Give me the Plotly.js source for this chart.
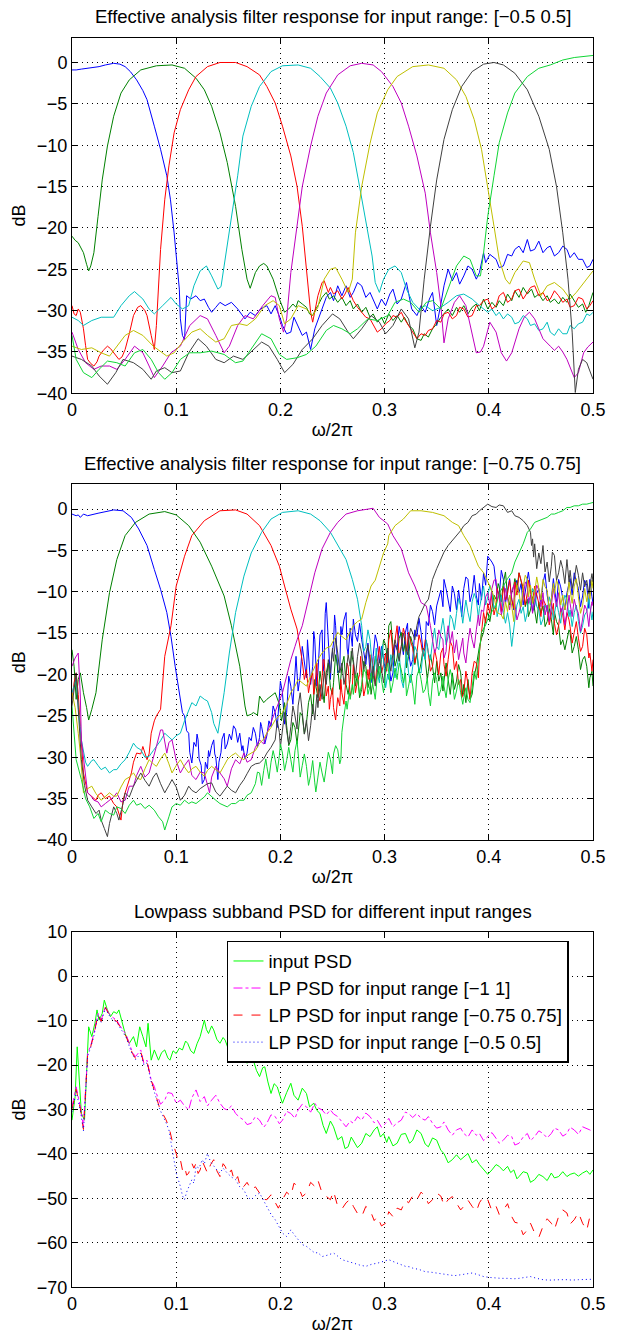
<!DOCTYPE html>
<html>
<head>
<meta charset="utf-8">
<script src="https://cdn.plot.ly/plotly-3.0.1.min.js"></script>
<style>html,body{margin:0;padding:0;background:#fff;}#chart{width:617px;height:1336px;}</style>
</head>
<body>
<div id="chart"></div>
<script>
// ---------- Panel 1: input range [-0.5 0.5]  ([frequency, dB] pairs) ----------
const p1Blue = [[0,-0.9],[0.004,-0.9],[0.009,-0.8],[0.015,-0.7],[0.02,-0.6],[0.026,-0.5],[0.032,-0.3],[0.036,-0.2],[0.04,-0.1],[0.046,-0.2],[0.051,-0.5],[0.056,-1.1],[0.062,-2.1],[0.068,-3.4],[0.072,-4.5],[0.079,-7.7],[0.085,-10.5],[0.091,-13.7],[0.0945,-16.6],[0.098,-20.6],[0.101,-24.6],[0.103,-27.4],[0.104,-31],[0.106,-33],[0.108,-33.5],[0.11,-28.2],[0.114,-28.6],[0.119,-28.2],[0.123,-28.8],[0.127,-28.6],[0.131,-29.6],[0.134,-30.2],[0.138,-29.6],[0.142,-29],[0.147,-29.4],[0.153,-29],[0.159,-29.8],[0.166,-31],[0.171,-30.2],[0.176,-30.6],[0.181,-29.8],[0.187,-29.4],[0.191,-30.4],[0.195,-29.4],[0.2,-31],[0.202,-31.8],[0.206,-32.8],[0.21,-32.6],[0.213,-30.8],[0.217,-31.8],[0.221,-33],[0.225,-32.6],[0.229,-34.7],[0.233,-32.2],[0.236,-31.2],[0.24,-29.8],[0.244,-28.4],[0.248,-27.8],[0.251,-28.8],[0.255,-27],[0.259,-28.2],[0.263,-27],[0.267,-28.4],[0.27,-27.8],[0.274,-26.6],[0.278,-27],[0.282,-28.4],[0.286,-27.8],[0.29,-29],[0.293,-29.8],[0.297,-28.6],[0.301,-29.4],[0.305,-28],[0.308,-27.4],[0.312,-29.2],[0.316,-28.6],[0.321,-26.6],[0.326,-29.8],[0.331,-30.6],[0.335,-29.4],[0.339,-30.2],[0.343,-28.6],[0.346,-27.8],[0.35,-31.8],[0.354,-29.2],[0.357,-27],[0.361,-25],[0.365,-26.4],[0.369,-25.4],[0.372,-26.8],[0.376,-25.8],[0.38,-24.6],[0.384,-25],[0.388,-26.2],[0.391,-25.4],[0.395,-23],[0.397,-24.2],[0.401,-23.2],[0.407,-23.8],[0.41,-24.8],[0.414,-24.6],[0.418,-23.2],[0.422,-23.4],[0.425,-22.6],[0.429,-22.2],[0.433,-23],[0.437,-21.4],[0.44,-22.8],[0.444,-22.6],[0.448,-21.6],[0.452,-23],[0.456,-22.4],[0.459,-22.2],[0.463,-23.4],[0.467,-23],[0.471,-22.2],[0.475,-22.6],[0.478,-23.6],[0.482,-23],[0.486,-23.8],[0.49,-23.8],[0.494,-24.8],[0.497,-24.6],[0.5,-23.8]];
const p1Green = [[0,-21],[0.003,-21.5],[0.006,-21.8],[0.009,-22.6],[0.011,-23],[0.014,-24.4],[0.016,-25.2],[0.018,-24.6],[0.021,-23],[0.025,-18.6],[0.029,-14.2],[0.034,-10.1],[0.04,-6.5],[0.047,-3.7],[0.055,-2.1],[0.066,-0.9],[0.081,-0.4],[0.096,-0.3],[0.108,-0.7],[0.119,-1.9],[0.127,-3.3],[0.134,-5.3],[0.142,-8.5],[0.149,-12.1],[0.157,-17.4],[0.163,-22.6],[0.168,-26.2],[0.171,-27.3],[0.176,-25.4],[0.18,-24.6],[0.184,-24.3],[0.187,-24.6],[0.193,-26.2],[0.199,-28.6],[0.204,-30.2],[0.208,-29.8],[0.212,-29.2],[0.215,-29.6],[0.217,-28.8],[0.221,-29.2],[0.225,-29.6],[0.228,-30.4],[0.231,-30.6],[0.234,-29.8],[0.236,-29.4],[0.24,-28.4],[0.244,-27.8],[0.247,-28.6],[0.251,-28.2],[0.255,-29],[0.259,-28.4],[0.263,-29.4],[0.267,-28.8],[0.27,-29.8],[0.274,-29.2],[0.278,-30.2],[0.282,-29.6],[0.286,-30.8],[0.289,-30.4],[0.293,-31.4],[0.297,-30.8],[0.3,-31.6],[0.304,-30.4],[0.308,-31.2],[0.312,-30.6],[0.316,-31.4],[0.319,-30.8],[0.323,-31.8],[0.327,-32.2],[0.331,-33.4],[0.335,-33.6],[0.338,-32.8],[0.342,-33.2],[0.346,-32.2],[0.35,-31.6],[0.354,-30.8],[0.357,-30.4],[0.361,-29.8],[0.365,-30.6],[0.369,-29.6],[0.372,-30.2],[0.376,-29.4],[0.38,-30.4],[0.384,-29.6],[0.388,-29.2],[0.391,-30],[0.395,-28.6],[0.399,-29.8],[0.403,-29],[0.407,-29.6],[0.41,-28.8],[0.414,-29.4],[0.418,-28],[0.422,-28.8],[0.425,-27.6],[0.429,-28.4],[0.433,-27.2],[0.437,-28],[0.441,-27.4],[0.444,-28.4],[0.448,-28],[0.452,-28.8],[0.456,-28.2],[0.459,-29],[0.463,-28.6],[0.467,-29.2],[0.471,-28.4],[0.475,-29],[0.478,-28],[0.482,-28.8],[0.486,-29.6],[0.49,-29.2],[0.493,-30.2],[0.496,-29.4],[0.5,-27.8]];
const p1Red = [[0,-29.4],[0.002,-30.4],[0.004,-30.6],[0.006,-29.8],[0.008,-30.2],[0.011,-32.2],[0.013,-34.2],[0.015,-35.9],[0.018,-36.4],[0.021,-36.7],[0.024,-36.2],[0.026,-35.5],[0.03,-34.8],[0.034,-34.3],[0.037,-34.6],[0.04,-35.1],[0.045,-35.9],[0.048,-35.6],[0.051,-34.7],[0.055,-32.8],[0.059,-30.6],[0.063,-29.6],[0.066,-29.4],[0.07,-30],[0.072,-30.6],[0.076,-33],[0.079,-34.7],[0.081,-31.8],[0.083,-27],[0.085,-22.6],[0.089,-16.6],[0.093,-12.5],[0.098,-8.5],[0.104,-5.7],[0.112,-3.3],[0.119,-1.7],[0.13,-0.5],[0.142,0],[0.157,0],[0.168,-0.5],[0.18,-1.5],[0.187,-2.9],[0.195,-4.9],[0.202,-7.7],[0.21,-11.3],[0.216,-15],[0.221,-19.8],[0.225,-24.6],[0.229,-30.2],[0.231,-31.4],[0.234,-29.4],[0.236,-28.2],[0.238,-27.4],[0.24,-26.6],[0.242,-26.4],[0.244,-27.2],[0.246,-27.8],[0.248,-27.2],[0.251,-28],[0.255,-27.6],[0.259,-28.6],[0.262,-28],[0.265,-27.2],[0.268,-28.2],[0.27,-28.8],[0.274,-29.6],[0.278,-30.2],[0.282,-30.8],[0.286,-31],[0.29,-32],[0.293,-32.6],[0.297,-32.2],[0.301,-31.6],[0.305,-31.2],[0.308,-30.6],[0.312,-30.8],[0.316,-30.2],[0.319,-31],[0.323,-31.8],[0.327,-32.6],[0.331,-33.4],[0.335,-32.8],[0.339,-33],[0.342,-32.4],[0.346,-32.2],[0.35,-31.2],[0.354,-31.4],[0.357,-30.4],[0.361,-30.2],[0.365,-31],[0.369,-30.6],[0.372,-29.6],[0.376,-29.8],[0.38,-30.8],[0.384,-30.6],[0.388,-29.4],[0.391,-29.4],[0.395,-28.8],[0.399,-28.6],[0.403,-29.8],[0.407,-29.4],[0.41,-28.2],[0.414,-27.8],[0.418,-29],[0.422,-28.6],[0.425,-27.6],[0.429,-27.4],[0.433,-28.6],[0.437,-27.8],[0.44,-27.2],[0.444,-27],[0.448,-28.2],[0.452,-27.8],[0.456,-28.8],[0.459,-28.6],[0.463,-27.6],[0.467,-28.2],[0.471,-29],[0.475,-28.6],[0.478,-29.6],[0.482,-29.4],[0.486,-28.4],[0.49,-28.6],[0.494,-29.8],[0.497,-29.4],[0.5,-28.8]];
const p1Cyan = [[0,-30.8],[0.006,-31.2],[0.011,-31.8],[0.019,-31.2],[0.028,-30.8],[0.04,-30.8],[0.047,-29.4],[0.055,-28.2],[0.06,-27.7],[0.068,-28.6],[0.074,-29.8],[0.079,-30.4],[0.087,-29.4],[0.095,-28.4],[0.1,-29.2],[0.106,-29.8],[0.112,-29.4],[0.117,-27],[0.123,-25.2],[0.129,-24.6],[0.134,-25.8],[0.14,-27.4],[0.143,-27.1],[0.147,-23.8],[0.153,-19],[0.159,-13.7],[0.164,-8.9],[0.172,-5.3],[0.18,-2.9],[0.191,-1.1],[0.202,-0.4],[0.217,-0.3],[0.229,-0.7],[0.238,-1.7],[0.248,-3.1],[0.255,-4.9],[0.263,-7.7],[0.27,-10.9],[0.276,-15],[0.282,-19],[0.288,-23.4],[0.291,-26.6],[0.295,-27.8],[0.299,-26.2],[0.304,-25],[0.31,-24.6],[0.316,-25.4],[0.321,-27.4],[0.327,-29],[0.333,-29.8],[0.339,-29.4],[0.346,-30],[0.354,-29.6],[0.361,-29],[0.369,-28.2],[0.376,-28],[0.384,-28.6],[0.391,-29.4],[0.399,-30.2],[0.403,-29.8],[0.407,-30.6],[0.41,-30.2],[0.414,-31],[0.418,-30.4],[0.422,-30.8],[0.425,-31.6],[0.429,-31.4],[0.433,-30.6],[0.437,-31],[0.44,-31.8],[0.444,-31.6],[0.448,-32.4],[0.452,-32.2],[0.456,-31.4],[0.459,-32.6],[0.463,-33],[0.467,-32.2],[0.471,-32.8],[0.475,-32.8],[0.478,-31.8],[0.482,-32.2],[0.486,-31.6],[0.49,-31.4],[0.494,-30.4],[0.497,-30.6],[0.5,-30.2]];
const p1Magenta = [[0,-32.6],[0.006,-34.7],[0.013,-36.3],[0.021,-37.1],[0.028,-36.7],[0.036,-36.7],[0.043,-37.1],[0.051,-35.9],[0.06,-34.3],[0.068,-35.1],[0.074,-36.7],[0.079,-38.1],[0.087,-36.7],[0.095,-35.1],[0.104,-34.3],[0.113,-31.8],[0.123,-30.6],[0.13,-31],[0.138,-33],[0.146,-35.1],[0.151,-34.3],[0.159,-31.8],[0.166,-30.6],[0.174,-31],[0.183,-29.4],[0.191,-28.2],[0.195,-28.4],[0.199,-31],[0.203,-32.6],[0.206,-31],[0.21,-25.4],[0.216,-19.8],[0.221,-15],[0.229,-10.1],[0.236,-6.5],[0.244,-3.7],[0.255,-1.5],[0.267,-0.4],[0.278,-0.1],[0.289,-0.3],[0.297,-1.1],[0.308,-2.9],[0.316,-4.9],[0.323,-7.7],[0.331,-11.3],[0.339,-15.8],[0.344,-20.6],[0.35,-25.4],[0.354,-29.4],[0.357,-33.9],[0.361,-31],[0.367,-29],[0.372,-28.2],[0.378,-29.4],[0.384,-32.6],[0.388,-35.1],[0.392,-35],[0.395,-34.3],[0.401,-31.4],[0.407,-32.6],[0.412,-35.1],[0.417,-36.1],[0.422,-35.1],[0.429,-32.2],[0.434,-30.8],[0.439,-30.2],[0.444,-31],[0.452,-33.4],[0.459,-34.3],[0.463,-34.8],[0.467,-34.3],[0.471,-35],[0.475,-35.9],[0.478,-36.8],[0.482,-38.1],[0.486,-37.5],[0.491,-35.1],[0.495,-34.4],[0.5,-33.8]];
const p1Yellow = [[0,-34.3],[0.009,-34.7],[0.019,-34.5],[0.028,-35.1],[0.036,-35.5],[0.043,-34.3],[0.051,-33],[0.059,-32.4],[0.068,-33],[0.078,-34.3],[0.085,-34.9],[0.091,-35.5],[0.098,-35.1],[0.106,-33.8],[0.115,-32.6],[0.123,-32.2],[0.13,-33],[0.138,-33.8],[0.146,-33.4],[0.153,-31.8],[0.161,-31.6],[0.168,-31.8],[0.176,-31],[0.185,-29.4],[0.193,-28.8],[0.199,-29.4],[0.204,-31.6],[0.21,-31],[0.217,-29.4],[0.225,-29.8],[0.231,-30.6],[0.236,-29.6],[0.242,-26.2],[0.248,-25],[0.253,-24.8],[0.259,-26.2],[0.265,-27.8],[0.269,-26.2],[0.272,-20.6],[0.278,-15],[0.286,-9.8],[0.293,-6.1],[0.303,-3.3],[0.312,-1.7],[0.327,-0.5],[0.342,-0.3],[0.357,-0.7],[0.369,-2.1],[0.378,-4.1],[0.386,-6.9],[0.393,-10.5],[0.399,-15],[0.405,-19.8],[0.41,-23.8],[0.416,-26.2],[0.42,-26.8],[0.425,-25.4],[0.433,-24],[0.439,-24.2],[0.444,-26.2],[0.45,-28.2],[0.456,-27],[0.463,-26.6],[0.471,-27.4],[0.478,-28.6],[0.484,-27.8],[0.491,-26.6],[0.5,-25.2]];
const p1Gray = [[0,-35.5],[0.009,-35.9],[0.019,-36.7],[0.026,-37.9],[0.034,-38.9],[0.042,-37.5],[0.049,-35.9],[0.059,-36.3],[0.068,-37.1],[0.076,-38.3],[0.081,-37.3],[0.089,-36.9],[0.096,-37.5],[0.104,-37.3],[0.112,-35.1],[0.121,-33.4],[0.129,-34.3],[0.138,-35.9],[0.146,-36.3],[0.155,-35.5],[0.164,-35.9],[0.174,-34.7],[0.182,-33.8],[0.189,-34.3],[0.197,-35.9],[0.204,-37.5],[0.212,-36.5],[0.221,-34.7],[0.231,-33.4],[0.24,-31.8],[0.25,-30.4],[0.257,-31],[0.265,-32.6],[0.27,-33.4],[0.278,-32.2],[0.287,-30.6],[0.295,-31.4],[0.301,-32.8],[0.308,-31.8],[0.316,-29.8],[0.323,-31],[0.329,-34.5],[0.333,-32.6],[0.338,-26.2],[0.344,-19.8],[0.35,-14.2],[0.357,-9.3],[0.365,-5.7],[0.374,-2.9],[0.384,-1.1],[0.395,-0.2],[0.405,0],[0.414,-0.3],[0.425,-1.3],[0.437,-3.3],[0.448,-6.5],[0.458,-10.5],[0.465,-15],[0.471,-20.6],[0.476,-26.2],[0.48,-32.6],[0.483,-39.9],[0.486,-37.1],[0.49,-35.9],[0.494,-36.3],[0.5,-38.3]];
const p1Lime = [[0,-33],[0.004,-35.9],[0.011,-37.5],[0.019,-38.1],[0.026,-37.1],[0.034,-36.1],[0.043,-36.3],[0.051,-36.7],[0.06,-35.1],[0.068,-34.7],[0.076,-35.9],[0.083,-37.5],[0.089,-38.3],[0.096,-37.5],[0.104,-35.9],[0.113,-35.1],[0.123,-35.1],[0.134,-34.9],[0.146,-35.3],[0.157,-36.3],[0.164,-36.1],[0.172,-34.7],[0.182,-32.8],[0.191,-33.4],[0.199,-35.3],[0.206,-35.9],[0.216,-35.7],[0.225,-35.3],[0.234,-34.3],[0.244,-32.4],[0.251,-31.8],[0.259,-32.2],[0.267,-32.8],[0.274,-32.2],[0.284,-31],[0.293,-31.2],[0.303,-30.6],[0.31,-29],[0.318,-28.6],[0.325,-29],[0.333,-30.2],[0.34,-29],[0.346,-28.8],[0.354,-29.8],[0.361,-27.4],[0.369,-24.6],[0.376,-23.4],[0.382,-23.8],[0.388,-25.8],[0.392,-25.8],[0.395,-23],[0.399,-18.6],[0.405,-13.7],[0.41,-9.7],[0.418,-6.1],[0.425,-3.7],[0.437,-1.7],[0.448,-0.7],[0.459,-0.3],[0.471,0.3],[0.482,0.6],[0.493,0.8],[0.5,0.85]];

// ---------- Panel 2: input range [-0.75 0.75] ----------
const p2Blue = [[0,-0.6],[0.004,-0.8],[0.006,-0.7],[0.008,-1],[0.011,-0.6],[0.015,-0.8],[0.025,-0.5],[0.04,-0.1],[0.049,-0.2],[0.057,-1],[0.064,-2.4],[0.072,-4.4],[0.079,-7.3],[0.085,-9.7],[0.091,-12.5],[0.095,-15.4],[0.099,-19],[0.104,-23],[0.106,-24.6],[0.108,-25],[0.11,-26.8],[0.112,-27.1],[0.113,-29.4],[0.115,-30.7],[0.117,-28.2],[0.119,-28.7],[0.12,-27.2],[0.121,-27.9],[0.122,-30.2],[0.124,-31],[0.125,-33.2],[0.127,-32.7],[0.128,-30.6],[0.13,-31.4],[0.131,-29.2],[0.132,-29.9],[0.134,-28.6],[0.136,-27.9],[0.137,-29.6],[0.138,-30],[0.139,-31.6],[0.14,-32.7],[0.141,-30.6],[0.143,-29.4],[0.144,-27.8],[0.146,-27.1],[0.147,-29],[0.149,-28.4],[0.151,-27.2],[0.153,-27.9],[0.155,-26.2],[0.157,-26.6],[0.159,-28.2],[0.161,-27.1],[0.163,-29.2],[0.164,-28.6],[0.166,-30.2],[0.168,-29.5],[0.17,-27.6],[0.172,-28],[0.174,-26.4],[0.176,-27.1],[0.178,-28.8],[0.18,-27.6],[0.181,-25.8],[0.182,-26.3],[0.185,-28.4],[0.187,-27.4],[0.189,-25.6],[0.191,-26.3],[0.193,-23.8],[0.195,-24.6],[0.197,-26.4],[0.199,-23],[0.2,-20.8],[0.202,-22.2],[0.204,-26],[0.206,-24.6],[0.208,-20.2],[0.21,-21.4],[0.212,-23.6],[0.214,-19.8],[0.215,-17.8],[0.217,-22],[0.219,-20.2],[0.221,-16.6],[0.223,-18.8],[0.225,-20.4],[0.226,-15.8],[0.227,-17.4],[0.229,-21.2],[0.231,-19],[0.232,-14.8],[0.233,-15.8],[0.235,-21.4],[0.236,-19.8],[0.238,-15.2],[0.24,-14.6],[0.241,-19.6],[0.242,-18.4],[0.243,-12.6],[0.244,-11.3],[0.246,-16.4],[0.248,-20.6],[0.249,-18.2],[0.251,-16.2],[0.252,-12.8],[0.253,-14.1],[0.255,-19.8],[0.257,-19.4],[0.258,-14.2],[0.259,-15.2],[0.261,-13.4],[0.263,-12.5],[0.264,-16.8],[0.265,-17.6],[0.267,-14.4],[0.269,-16.6],[0.27,-13.3],[0.272,-15.2],[0.274,-16],[0.276,-13.8],[0.278,-15.8],[0.28,-17.4],[0.282,-18.8],[0.284,-16.2],[0.286,-19.8],[0.288,-21],[0.289,-17.8],[0.291,-15.2],[0.293,-16.2],[0.295,-18.6],[0.297,-16.6],[0.299,-18.2],[0.301,-19.8],[0.303,-17.2],[0.304,-18.2],[0.306,-20.8],[0.308,-19.8],[0.31,-16.4],[0.312,-17],[0.314,-14.2],[0.316,-15.6],[0.318,-17.6],[0.32,-14.9],[0.322,-13.8],[0.323,-17.2],[0.325,-19],[0.327,-18.2],[0.329,-14.6],[0.331,-15.4],[0.333,-13.2],[0.335,-14.9],[0.337,-17.4],[0.339,-16.8],[0.34,-13.6],[0.342,-14.1],[0.344,-11.6],[0.346,-12.4],[0.348,-14],[0.35,-11.7],[0.352,-10.6],[0.354,-9.8],[0.356,-11.8],[0.357,-8.5],[0.359,-9.6],[0.361,-10.9],[0.363,-12.4],[0.365,-9.3],[0.367,-10.2],[0.369,-12.2],[0.371,-9.8],[0.373,-11.7],[0.374,-13],[0.376,-9.6],[0.378,-8.2],[0.38,-8.5],[0.382,-11.2],[0.384,-10.2],[0.386,-8],[0.388,-10.5],[0.39,-11.6],[0.391,-9],[0.393,-11],[0.395,-7.7],[0.397,-9.2],[0.399,-5.7],[0.401,-6],[0.403,-6.4],[0.405,-6.9],[0.407,-9.2],[0.41,-10.5],[0.412,-7.4],[0.414,-8.5],[0.416,-11.4],[0.418,-9.8],[0.42,-8.4],[0.422,-10.9],[0.424,-12.2],[0.425,-9.4],[0.427,-8.6],[0.429,-10.1],[0.431,-9],[0.433,-11.6],[0.435,-10],[0.437,-8.5],[0.438,-7.6],[0.44,-9.6],[0.442,-12.4],[0.444,-11.7],[0.446,-10.2],[0.448,-9.6],[0.45,-11.2],[0.452,-8.9],[0.454,-7.8],[0.456,-10.4],[0.458,-12],[0.46,-10.9],[0.462,-8.4],[0.463,-9.6],[0.465,-11.4],[0.467,-8.5],[0.469,-9.4],[0.471,-10.8],[0.473,-12.2],[0.475,-10.1],[0.477,-9],[0.478,-8.4],[0.48,-10.4],[0.482,-7.7],[0.484,-8.8],[0.486,-9.6],[0.488,-11.8],[0.49,-10.5],[0.492,-8.6],[0.494,-9.2],[0.496,-12],[0.497,-8.5],[0.499,-10.6],[0.5,-11.4]];
const p2Green = [[0,-17],[0.002,-19],[0.004,-23],[0.006,-20.6],[0.008,-19.8],[0.01,-21.4],[0.011,-22.2],[0.014,-24],[0.016,-25.5],[0.019,-24.2],[0.023,-22.2],[0.029,-15.8],[0.036,-10.1],[0.043,-6.1],[0.051,-3.2],[0.061,-1.6],[0.074,-0.6],[0.089,-0.3],[0.1,-0.7],[0.112,-2],[0.123,-4],[0.134,-6.9],[0.146,-10.5],[0.153,-14.1],[0.161,-19],[0.166,-23.8],[0.168,-25],[0.172,-24.8],[0.174,-24.6],[0.178,-24.9],[0.18,-22.6],[0.184,-23.4],[0.187,-23],[0.191,-22.6],[0.195,-22.2],[0.199,-23.6],[0.201,-25.6],[0.202,-25],[0.204,-23.4],[0.206,-26.2],[0.208,-28.6],[0.21,-27.9],[0.212,-25.8],[0.214,-26.4],[0.216,-28.4],[0.217,-27.1],[0.219,-24.6],[0.221,-25],[0.223,-27.2],[0.225,-25.9],[0.227,-23.4],[0.229,-22.4],[0.231,-24.8],[0.233,-20.6],[0.235,-21.8],[0.236,-22.8],[0.238,-19.6],[0.24,-21.4],[0.242,-23.4],[0.244,-19.8],[0.246,-18.6],[0.248,-21.6],[0.25,-22.4],[0.251,-21],[0.253,-17.6],[0.255,-19.2],[0.257,-21.8],[0.259,-19],[0.261,-17.8],[0.263,-21.2],[0.265,-22.4],[0.267,-20.6],[0.268,-17.2],[0.27,-18.6],[0.272,-21.4],[0.274,-19.8],[0.276,-22.8],[0.278,-21.8],[0.28,-18.4],[0.282,-19],[0.284,-21.6],[0.286,-20.4],[0.287,-22.4],[0.289,-20.6],[0.291,-17.8],[0.293,-18.6],[0.295,-20.4],[0.297,-18.2],[0.299,-15.8],[0.301,-16.4],[0.303,-18.6],[0.304,-14.1],[0.306,-13.6],[0.308,-16.6],[0.31,-19],[0.312,-18],[0.314,-15.6],[0.316,-14.9],[0.318,-17.2],[0.32,-16.2],[0.321,-19.2],[0.323,-17.8],[0.325,-15.4],[0.327,-16.4],[0.329,-18.8],[0.331,-17.4],[0.333,-19.8],[0.335,-18.6],[0.337,-16.8],[0.339,-18.2],[0.341,-20.6],[0.342,-19.6],[0.344,-17.6],[0.346,-19],[0.348,-21],[0.35,-18.4],[0.352,-20.8],[0.354,-19.8],[0.356,-22],[0.357,-20.8],[0.359,-18.6],[0.361,-20.6],[0.363,-22.4],[0.365,-19.8],[0.367,-21.8],[0.369,-20.8],[0.371,-18.8],[0.373,-19.8],[0.375,-22.6],[0.376,-21.2],[0.378,-23.4],[0.38,-20.6],[0.382,-23],[0.384,-22.4],[0.386,-20.2],[0.388,-19],[0.39,-17.4],[0.391,-16.6],[0.393,-15.6],[0.395,-14.9],[0.397,-13.2],[0.399,-12.5],[0.401,-13.6],[0.403,-11.8],[0.405,-10.4],[0.407,-10.9],[0.409,-9],[0.41,-9.4],[0.412,-11.2],[0.414,-8.9],[0.416,-7.6],[0.418,-10.6],[0.42,-11.6],[0.422,-10.1],[0.424,-9.2],[0.425,-8.4],[0.427,-9.6],[0.429,-7.7],[0.431,-8.8],[0.433,-9.8],[0.435,-11.8],[0.437,-10.9],[0.438,-13],[0.44,-12.2],[0.442,-10.6],[0.444,-12.5],[0.446,-13.8],[0.448,-11.2],[0.45,-12.6],[0.452,-11.7],[0.454,-14.2],[0.456,-13.6],[0.458,-12],[0.46,-13.3],[0.462,-15.2],[0.463,-12.4],[0.465,-13.6],[0.467,-14.1],[0.469,-16.4],[0.471,-15.8],[0.473,-17],[0.475,-15.8],[0.477,-14.6],[0.478,-14.9],[0.48,-17.4],[0.482,-16.6],[0.484,-15.4],[0.486,-17],[0.488,-19.4],[0.49,-18.2],[0.492,-17.8],[0.494,-19],[0.496,-21.6],[0.497,-20.4],[0.499,-19.6],[0.5,-21.4]];
const p2Red = [[0,-23],[0.002,-21],[0.004,-19.8],[0.006,-22.4],[0.008,-26.3],[0.011,-31.9],[0.015,-34.3],[0.019,-34.8],[0.023,-35.2],[0.025,-34.6],[0.028,-34.3],[0.032,-35],[0.036,-34.7],[0.04,-35.6],[0.043,-36],[0.047,-37.6],[0.049,-35.2],[0.051,-34.3],[0.055,-32.8],[0.057,-31.9],[0.059,-30.6],[0.062,-29.5],[0.066,-29.6],[0.068,-28.7],[0.072,-30.3],[0.074,-29.6],[0.076,-27.1],[0.079,-25.6],[0.081,-25],[0.085,-24.2],[0.089,-17.8],[0.093,-15.2],[0.095,-14.1],[0.1,-9.3],[0.108,-5.7],[0.115,-3.2],[0.127,-1.4],[0.142,-0.2],[0.157,-0.1],[0.168,-0.6],[0.18,-2],[0.191,-4.4],[0.199,-6.9],[0.204,-9.3],[0.21,-12.1],[0.216,-14.5],[0.219,-16.6],[0.221,-18.4],[0.223,-20.6],[0.225,-19.4],[0.227,-22.2],[0.229,-20.6],[0.231,-19.8],[0.232,-22.4],[0.233,-21.6],[0.235,-18.6],[0.236,-22.2],[0.238,-23.2],[0.24,-20.4],[0.241,-18.2],[0.242,-18.2],[0.244,-22.6],[0.246,-21.4],[0.247,-24.2],[0.248,-23],[0.25,-21.6],[0.251,-24],[0.253,-25.5],[0.255,-22.8],[0.257,-23.8],[0.258,-20.6],[0.259,-22.2],[0.261,-23.6],[0.263,-20.4],[0.264,-18.6],[0.265,-19],[0.267,-22.6],[0.269,-21.6],[0.27,-18.8],[0.272,-22.2],[0.274,-20.8],[0.276,-20],[0.277,-17.8],[0.278,-19.8],[0.28,-22.6],[0.282,-21.4],[0.284,-19.4],[0.285,-20.6],[0.287,-17.6],[0.289,-19],[0.291,-21.2],[0.293,-18.4],[0.295,-16.6],[0.297,-19.8],[0.299,-18.8],[0.301,-17.4],[0.302,-19.6],[0.304,-15.8],[0.306,-14.6],[0.308,-17.6],[0.31,-16],[0.312,-14.1],[0.314,-17.8],[0.316,-16.6],[0.318,-14.4],[0.32,-15.4],[0.321,-17.6],[0.323,-14.9],[0.325,-16],[0.327,-16.8],[0.329,-18.6],[0.331,-17.4],[0.333,-15.2],[0.335,-16.2],[0.337,-17.8],[0.339,-15.8],[0.341,-16.4],[0.342,-17.6],[0.344,-19.6],[0.346,-19],[0.348,-17],[0.35,-18.2],[0.352,-20],[0.354,-17.4],[0.356,-16.8],[0.357,-18.8],[0.359,-20.2],[0.361,-18.2],[0.363,-16],[0.365,-16.6],[0.367,-19.4],[0.369,-18.4],[0.371,-21.2],[0.373,-20.6],[0.374,-22.8],[0.376,-22.2],[0.378,-19.6],[0.38,-21.2],[0.382,-23],[0.384,-19.8],[0.386,-18.4],[0.388,-18.6],[0.39,-20.4],[0.391,-17.4],[0.393,-14.6],[0.395,-12.5],[0.397,-13.8],[0.399,-11.4],[0.401,-12.6],[0.403,-10.1],[0.405,-12.8],[0.407,-11.7],[0.408,-9.6],[0.41,-10.6],[0.412,-12.4],[0.414,-9.3],[0.416,-11],[0.418,-10.2],[0.42,-8.6],[0.422,-10.9],[0.424,-12],[0.425,-8.8],[0.427,-10.4],[0.429,-7.7],[0.431,-8.6],[0.433,-9.6],[0.435,-11.6],[0.437,-10.1],[0.438,-8.6],[0.44,-9.9],[0.442,-11.2],[0.444,-9.3],[0.446,-10.4],[0.448,-11.4],[0.45,-13],[0.452,-10.9],[0.454,-11.4],[0.456,-12.1],[0.458,-14],[0.46,-12.5],[0.462,-11.4],[0.463,-13.8],[0.465,-15.2],[0.467,-14.1],[0.469,-12],[0.471,-12.8],[0.473,-14.6],[0.475,-12.5],[0.477,-13.4],[0.478,-14.2],[0.48,-16.2],[0.482,-14.9],[0.484,-13.6],[0.486,-15.6],[0.488,-17.2],[0.49,-16.6],[0.492,-14.4],[0.494,-15.2],[0.496,-18],[0.497,-17.4],[0.499,-19.6],[0.5,-18.2]];
const p2Cyan = [[0,-22.2],[0.004,-20.6],[0.006,-24],[0.009,-27.9],[0.013,-30.6],[0.015,-31.1],[0.019,-30.4],[0.021,-30.3],[0.025,-31],[0.028,-31.5],[0.032,-31.2],[0.036,-31.9],[0.04,-31.5],[0.043,-31.5],[0.047,-30.8],[0.051,-30.3],[0.055,-29.4],[0.059,-28.3],[0.062,-28.8],[0.066,-29.1],[0.07,-30],[0.074,-29.9],[0.078,-29.2],[0.081,-28.7],[0.085,-28],[0.089,-27.1],[0.093,-27.6],[0.096,-27.9],[0.1,-27.4],[0.104,-27.1],[0.108,-25.6],[0.112,-24.2],[0.115,-23.4],[0.119,-23.8],[0.123,-22.6],[0.127,-23],[0.13,-23.2],[0.134,-24.6],[0.136,-25.9],[0.14,-27.1],[0.142,-25.6],[0.146,-22.2],[0.151,-17.4],[0.157,-12.5],[0.165,-8.1],[0.172,-5.3],[0.182,-2.8],[0.191,-1.2],[0.202,-0.4],[0.217,-0.2],[0.229,-0.6],[0.238,-1.4],[0.248,-2.8],[0.255,-4.4],[0.259,-5.2],[0.263,-6.1],[0.269,-8.5],[0.274,-10.9],[0.278,-14.1],[0.28,-17.2],[0.282,-16.6],[0.284,-14.6],[0.286,-15.8],[0.287,-17.4],[0.289,-20.2],[0.291,-18.6],[0.292,-16.8],[0.293,-19.8],[0.295,-21],[0.297,-17.6],[0.298,-16.4],[0.299,-18.2],[0.301,-21.6],[0.303,-20],[0.304,-20.6],[0.306,-17.6],[0.308,-18.8],[0.31,-20.4],[0.312,-19],[0.314,-17.4],[0.316,-20.6],[0.318,-21.6],[0.32,-18.6],[0.321,-17.2],[0.323,-19.8],[0.325,-21],[0.327,-19],[0.329,-16.6],[0.331,-17.2],[0.333,-19.6],[0.335,-19.8],[0.337,-17],[0.339,-18.2],[0.34,-15.8],[0.342,-17.4],[0.344,-18.2],[0.346,-16],[0.348,-14.4],[0.35,-16.6],[0.352,-17],[0.354,-14.8],[0.356,-13.2],[0.357,-14.1],[0.359,-16.4],[0.361,-15.4],[0.363,-12.8],[0.365,-13.3],[0.367,-14.6],[0.369,-12.6],[0.371,-10.8],[0.373,-11.7],[0.375,-13.8],[0.376,-12.8],[0.378,-11],[0.38,-12.5],[0.382,-13.6],[0.384,-11.2],[0.386,-10.2],[0.388,-10.9],[0.39,-13.2],[0.391,-12],[0.393,-10.4],[0.395,-9.3],[0.397,-11.6],[0.399,-10.6],[0.401,-9.2],[0.403,-10.1],[0.405,-12],[0.407,-11.4],[0.408,-13],[0.41,-11.7],[0.412,-10.4],[0.414,-12.5],[0.416,-13.8],[0.418,-12.5],[0.42,-14],[0.422,-16.6],[0.424,-14.2],[0.425,-13.4],[0.427,-11.6],[0.429,-10.9],[0.431,-12.6],[0.433,-11.8],[0.435,-13.6],[0.437,-12.5],[0.438,-10.8],[0.44,-11.6],[0.442,-9.6],[0.444,-10.1],[0.446,-11.8],[0.448,-12.2],[0.45,-14],[0.452,-13.3],[0.454,-11.6],[0.456,-12.4],[0.458,-10.6],[0.46,-11.7],[0.462,-13.4],[0.463,-12.5],[0.465,-11.2],[0.467,-12.5],[0.469,-13.8],[0.471,-11.6],[0.473,-10.4],[0.475,-10.9],[0.477,-13],[0.478,-12.2],[0.48,-14.2],[0.482,-12.5],[0.484,-11.6],[0.486,-13.6],[0.488,-15],[0.49,-14.1],[0.492,-12.8],[0.494,-12.4],[0.496,-10.8],[0.497,-11.7],[0.499,-13.4],[0.5,-12.4]];
const p2Magenta = [[0,-19],[0.003,-18],[0.006,-17.4],[0.008,-22.6],[0.009,-27.9],[0.013,-32.6],[0.015,-34.3],[0.019,-34.8],[0.021,-35.2],[0.025,-35.4],[0.028,-36],[0.032,-35.6],[0.036,-35.2],[0.04,-34.8],[0.043,-34.3],[0.047,-35.4],[0.051,-35.2],[0.055,-33.5],[0.059,-33.5],[0.062,-32.2],[0.066,-31.1],[0.07,-32.4],[0.074,-31.9],[0.078,-30.2],[0.081,-28.7],[0.085,-26.7],[0.087,-26.7],[0.091,-29.5],[0.093,-28.2],[0.096,-27.9],[0.1,-30.4],[0.104,-31.9],[0.108,-31],[0.112,-30.3],[0.115,-32.2],[0.119,-32.7],[0.123,-31.8],[0.127,-31.9],[0.13,-33.4],[0.132,-34.3],[0.134,-32.4],[0.138,-31.1],[0.142,-31.9],[0.146,-32.6],[0.149,-33.5],[0.153,-31.4],[0.157,-30.3],[0.161,-30.8],[0.165,-29.5],[0.168,-30.6],[0.172,-30.3],[0.176,-28.8],[0.18,-27.9],[0.184,-28.4],[0.187,-27.1],[0.191,-25.8],[0.195,-24.6],[0.199,-23.4],[0.202,-22.2],[0.206,-20.2],[0.21,-18.2],[0.214,-16.6],[0.216,-15.8],[0.221,-14.1],[0.227,-10.9],[0.233,-7.7],[0.24,-4.8],[0.248,-2.8],[0.255,-1.6],[0.263,-0.6],[0.274,-0.2],[0.289,0.1],[0.295,-1],[0.303,-1.8],[0.308,-3.2],[0.316,-4.8],[0.323,-7.7],[0.329,-9.3],[0.335,-11.3],[0.34,-11.7],[0.344,-14.1],[0.346,-15.6],[0.348,-17.4],[0.35,-16.6],[0.352,-14.6],[0.354,-15.4],[0.356,-15.8],[0.357,-18],[0.359,-17.2],[0.36,-15],[0.361,-14.1],[0.363,-16.2],[0.365,-14.8],[0.367,-17.4],[0.369,-15.8],[0.371,-18.2],[0.373,-17],[0.375,-15.6],[0.376,-17.4],[0.378,-18.6],[0.38,-16.2],[0.382,-14.4],[0.384,-15.8],[0.386,-16.8],[0.388,-14.6],[0.39,-12.8],[0.391,-14.1],[0.393,-12.2],[0.395,-12.4],[0.397,-10.6],[0.399,-10.1],[0.401,-11.6],[0.403,-9.6],[0.405,-8.6],[0.407,-8.5],[0.408,-11],[0.41,-10.2],[0.412,-12.8],[0.414,-11.7],[0.416,-9.6],[0.418,-10.8],[0.42,-12.2],[0.422,-10.1],[0.424,-9.2],[0.425,-11.4],[0.427,-13.4],[0.429,-12.5],[0.431,-11.4],[0.433,-10.6],[0.435,-8.8],[0.437,-9.3],[0.438,-11.4],[0.44,-10.4],[0.442,-12.6],[0.444,-10.9],[0.446,-9.2],[0.448,-9.8],[0.45,-11.8],[0.452,-10.1],[0.454,-12.8],[0.456,-11.6],[0.458,-13.6],[0.46,-11.7],[0.462,-9.6],[0.463,-10.4],[0.465,-11.8],[0.467,-10.1],[0.469,-12.4],[0.471,-11.8],[0.473,-14],[0.475,-12.5],[0.477,-10.4],[0.478,-11.4],[0.48,-13],[0.482,-10.9],[0.484,-12],[0.486,-12.6],[0.488,-14.8],[0.49,-13.3],[0.492,-11.6],[0.494,-12.2],[0.496,-14.2],[0.497,-12.8],[0.499,-11.2],[0.5,-11.7]];
const p2Yellow = [[0,-22.2],[0.003,-24],[0.006,-27.1],[0.008,-29.5],[0.011,-34.3],[0.015,-33.8],[0.019,-33.5],[0.023,-34.4],[0.028,-35.2],[0.032,-34.8],[0.036,-34.3],[0.04,-34.7],[0.043,-34.7],[0.047,-33.6],[0.051,-32.7],[0.055,-32.4],[0.059,-31.9],[0.062,-32.5],[0.066,-32.7],[0.07,-31.4],[0.074,-30.3],[0.078,-30.8],[0.081,-31.1],[0.085,-30.2],[0.089,-29.5],[0.093,-30.8],[0.096,-31.9],[0.1,-31],[0.104,-30.3],[0.108,-31.2],[0.112,-31.9],[0.115,-31.4],[0.119,-31.1],[0.123,-31.8],[0.127,-32.3],[0.13,-31.6],[0.134,-31.1],[0.138,-31.5],[0.142,-31.9],[0.146,-31],[0.149,-30.3],[0.153,-29.8],[0.157,-29.5],[0.161,-30],[0.165,-30.3],[0.168,-29.8],[0.172,-29.5],[0.176,-29.2],[0.18,-28.3],[0.184,-27.8],[0.187,-27.1],[0.191,-26.4],[0.195,-25.5],[0.199,-25],[0.202,-24.6],[0.206,-23.6],[0.21,-22.2],[0.214,-21.4],[0.217,-20.6],[0.221,-21],[0.225,-21.4],[0.229,-20.2],[0.233,-19],[0.236,-18.2],[0.24,-17.4],[0.244,-16.8],[0.248,-16.6],[0.251,-15.8],[0.255,-14.9],[0.259,-15.4],[0.263,-15.8],[0.267,-14.8],[0.27,-14.1],[0.274,-13.6],[0.278,-13.3],[0.282,-11.3],[0.286,-9.8],[0.287,-9.3],[0.291,-8.6],[0.293,-7.7],[0.297,-6.2],[0.299,-5.3],[0.303,-4.2],[0.304,-3.2],[0.31,-2],[0.318,-1.2],[0.325,-0.2],[0.335,-0.2],[0.346,-0.4],[0.357,-0.8],[0.365,-1.6],[0.371,-2],[0.376,-3.2],[0.382,-4.4],[0.39,-6.9],[0.395,-7.7],[0.401,-9.3],[0.405,-10.6],[0.408,-12.5],[0.412,-12.8],[0.414,-13.3],[0.416,-11.2],[0.418,-12.4],[0.42,-10.4],[0.422,-11.7],[0.424,-13.6],[0.425,-10.8],[0.427,-9.2],[0.429,-10.1],[0.431,-11.8],[0.433,-9.4],[0.435,-8],[0.437,-8.5],[0.438,-10.6],[0.44,-9.2],[0.442,-11.4],[0.444,-10.1],[0.446,-8.2],[0.448,-9.6],[0.45,-11],[0.452,-8.5],[0.454,-9.4],[0.456,-9.8],[0.458,-12],[0.46,-10.9],[0.462,-9],[0.463,-10.2],[0.465,-8.6],[0.467,-9.3],[0.469,-11.6],[0.471,-10.4],[0.473,-12.2],[0.475,-10.9],[0.477,-8.8],[0.478,-9.8],[0.48,-11.4],[0.482,-9.3],[0.484,-8.4],[0.486,-10.6],[0.488,-12.6],[0.49,-11.7],[0.492,-9.6],[0.494,-11.2],[0.496,-9.8],[0.497,-10.9],[0.499,-8.6],[0.5,-9.6]];
const p2Gray = [[0,-23.8],[0.002,-21.6],[0.004,-19.8],[0.006,-24.2],[0.009,-30.3],[0.012,-33.4],[0.015,-35.2],[0.019,-36],[0.023,-36.8],[0.026,-36.4],[0.028,-37.6],[0.031,-38.6],[0.034,-39.6],[0.036,-38],[0.04,-36],[0.043,-36.8],[0.045,-37.6],[0.049,-35.6],[0.051,-34.3],[0.055,-34.8],[0.059,-33.5],[0.062,-32.8],[0.066,-31.9],[0.07,-32.8],[0.074,-33.5],[0.078,-32.4],[0.081,-31.9],[0.085,-33.2],[0.089,-34.3],[0.093,-33.4],[0.096,-32.7],[0.1,-33.6],[0.104,-35.2],[0.108,-34.6],[0.112,-33.5],[0.115,-34],[0.119,-34.3],[0.123,-33.8],[0.127,-33.5],[0.13,-33.2],[0.134,-33.1],[0.138,-34.2],[0.142,-34.7],[0.146,-34],[0.149,-33.5],[0.153,-34],[0.157,-34.3],[0.161,-33.4],[0.165,-32.7],[0.168,-32],[0.172,-31.1],[0.176,-30.8],[0.18,-30.7],[0.184,-30.2],[0.187,-29.5],[0.191,-28.8],[0.195,-27.9],[0.197,-25.6],[0.199,-27],[0.2,-28.8],[0.202,-26.3],[0.204,-24.6],[0.206,-26.8],[0.208,-28.4],[0.21,-26.3],[0.212,-23.8],[0.214,-25],[0.216,-26.6],[0.217,-23.8],[0.219,-22.2],[0.221,-24.6],[0.223,-27.2],[0.225,-25.5],[0.227,-28],[0.229,-26.2],[0.231,-23.6],[0.233,-25.5],[0.235,-22.4],[0.236,-24],[0.238,-21.2],[0.24,-23],[0.242,-19.6],[0.244,-21.2],[0.246,-18.2],[0.248,-19.8],[0.25,-16.8],[0.251,-18.4],[0.253,-15.6],[0.255,-17.4],[0.257,-19.8],[0.259,-18.6],[0.261,-21.2],[0.263,-19.8],[0.265,-17.6],[0.267,-19],[0.269,-16.8],[0.27,-18.2],[0.272,-20.4],[0.274,-17.8],[0.276,-16.2],[0.278,-17.4],[0.28,-19.6],[0.282,-17.6],[0.284,-16.4],[0.286,-18.2],[0.288,-20.6],[0.289,-19],[0.291,-21.4],[0.293,-19.8],[0.295,-18.2],[0.297,-19.4],[0.299,-21],[0.301,-19],[0.303,-16.8],[0.304,-18.2],[0.306,-19.6],[0.308,-17.4],[0.31,-15.8],[0.312,-17],[0.314,-18.4],[0.316,-16.6],[0.318,-15],[0.32,-16.2],[0.322,-17.6],[0.323,-15.8],[0.325,-14.4],[0.327,-15],[0.329,-15.8],[0.331,-14.1],[0.333,-13],[0.335,-12.5],[0.339,-11.4],[0.342,-10.9],[0.346,-8.5],[0.35,-7.2],[0.354,-6.1],[0.357,-5.2],[0.361,-4.4],[0.365,-3.8],[0.369,-3.2],[0.373,-2.6],[0.376,-2],[0.38,-1.6],[0.384,-0.8],[0.388,-0.6],[0.391,-0.2],[0.395,0.2],[0.399,0.6],[0.403,0.3],[0.407,0.2],[0.41,0.5],[0.414,0.4],[0.418,-0.4],[0.422,-0.2],[0.425,-0.8],[0.429,-1],[0.433,-1.4],[0.437,-2],[0.44,-2.8],[0.441,-4.4],[0.442,-3.6],[0.443,-5.8],[0.444,-4.2],[0.446,-7.2],[0.448,-5.3],[0.45,-6.6],[0.452,-4.4],[0.454,-7.6],[0.456,-6.4],[0.458,-8.8],[0.46,-6.9],[0.461,-5.2],[0.463,-5.6],[0.465,-8.6],[0.467,-7.7],[0.469,-6.2],[0.471,-7.2],[0.473,-9],[0.475,-6.1],[0.477,-8.8],[0.478,-7.4],[0.48,-9.6],[0.482,-8.5],[0.484,-6.8],[0.486,-8],[0.488,-9.8],[0.49,-7.7],[0.492,-9.4],[0.494,-8.6],[0.496,-10.2],[0.497,-9.3],[0.499,-7.8],[0.5,-8.8]];
const p2Lime = [[0,-23.8],[0.004,-30.3],[0.009,-32.7],[0.013,-35],[0.017,-36],[0.021,-37.4],[0.025,-36.8],[0.028,-37.8],[0.032,-36.4],[0.036,-36.8],[0.04,-37],[0.043,-36],[0.047,-36.2],[0.051,-36.8],[0.055,-35.8],[0.059,-35.2],[0.062,-35.8],[0.066,-35.6],[0.07,-36.2],[0.074,-35.8],[0.079,-36.4],[0.083,-37.2],[0.087,-37.8],[0.089,-38.8],[0.093,-37.2],[0.096,-36],[0.1,-35.6],[0.104,-35.8],[0.108,-35.2],[0.112,-35.6],[0.115,-35.4],[0.119,-35.6],[0.123,-35.2],[0.127,-34.8],[0.13,-34.3],[0.134,-34.8],[0.138,-35.2],[0.142,-35.6],[0.146,-35.8],[0.149,-36],[0.153,-35.6],[0.157,-35.6],[0.161,-35.2],[0.165,-35.2],[0.168,-34.6],[0.172,-34.3],[0.176,-33.2],[0.178,-31.8],[0.18,-31.9],[0.182,-33.4],[0.184,-31.6],[0.186,-30.2],[0.187,-31.1],[0.189,-32.6],[0.191,-30.6],[0.193,-29.2],[0.195,-30.3],[0.197,-31.8],[0.199,-29.8],[0.2,-28.4],[0.202,-29.5],[0.204,-31.6],[0.206,-30.4],[0.208,-28.8],[0.21,-30.3],[0.212,-31.8],[0.214,-29.2],[0.216,-28],[0.217,-29.5],[0.219,-32.4],[0.221,-31],[0.223,-29.6],[0.225,-31.1],[0.227,-33.4],[0.229,-32.2],[0.231,-30.4],[0.233,-33.1],[0.234,-34.2],[0.236,-32.4],[0.238,-30.6],[0.24,-31.9],[0.242,-33],[0.244,-31.2],[0.246,-29.4],[0.248,-30.3],[0.25,-32],[0.251,-29.6],[0.253,-28.6],[0.255,-29.1],[0.257,-30.8],[0.258,-30.3],[0.259,-27],[0.261,-25],[0.263,-23.2],[0.264,-24.2],[0.266,-22.2],[0.267,-23],[0.269,-21.2],[0.27,-22.4],[0.272,-20],[0.274,-20.6],[0.276,-22.4],[0.278,-21.2],[0.28,-19.4],[0.282,-19.8],[0.284,-22.4],[0.286,-21.4],[0.287,-19.8],[0.289,-21.4],[0.291,-23],[0.293,-20.2],[0.295,-19],[0.297,-20.6],[0.299,-22.2],[0.301,-19.6],[0.303,-18.6],[0.304,-19.8],[0.306,-22.2],[0.308,-21],[0.31,-19.2],[0.312,-20.6],[0.314,-18.6],[0.316,-19.4],[0.318,-21],[0.32,-19.8],[0.321,-22.6],[0.323,-21.4],[0.325,-20],[0.327,-21.4],[0.329,-23.6],[0.331,-20.2],[0.333,-19.4],[0.335,-20.6],[0.337,-22.2],[0.339,-21.8],[0.341,-20.4],[0.342,-22.2],[0.344,-23.8],[0.346,-20.8],[0.348,-19.8],[0.35,-20.6],[0.352,-22.6],[0.354,-21.8],[0.356,-20.2],[0.357,-21.4],[0.359,-22.8],[0.361,-20.6],[0.363,-19.4],[0.365,-20.6],[0.367,-23],[0.369,-22],[0.371,-20.6],[0.373,-22.2],[0.375,-23.6],[0.376,-22.8],[0.378,-21.6],[0.38,-23],[0.382,-23.4],[0.384,-21.6],[0.386,-19.6],[0.388,-20.6],[0.391,-17],[0.393,-14.9],[0.397,-14],[0.399,-13.3],[0.403,-12.4],[0.407,-11.7],[0.41,-10.2],[0.414,-9.3],[0.418,-8.4],[0.422,-7.7],[0.425,-6.4],[0.429,-5.3],[0.433,-4.2],[0.437,-2.8],[0.44,-2.4],[0.444,-1.6],[0.448,-1.4],[0.452,-1.2],[0.456,-1],[0.46,-0.6],[0.463,-0.6],[0.467,-0.4],[0.471,-0.2],[0.475,0.2],[0.478,0.2],[0.482,0.4],[0.486,0.4],[0.49,0.6],[0.494,0.6],[0.497,0.7],[0.5,0.8]];

// ---------- Panel 3: lowpass subband PSD ----------
const p3Input = [[0,-32.4],[0.003,-27.1],[0.005,-15.9],[0.007,-24.9],[0.009,-30.9],[0.012,-32.4],[0.014,-20.4],[0.016,-11.4],[0.019,-13.6],[0.022,-10.6],[0.024,-7.6],[0.026,-9.9],[0.029,-8.4],[0.031,-5.4],[0.034,-7.6],[0.037,-9.1],[0.04,-8],[0.043,-8.4],[0.045,-7.6],[0.048,-10.6],[0.051,-12.9],[0.055,-15.1],[0.059,-13.6],[0.062,-15.9],[0.065,-11.4],[0.068,-13.6],[0.071,-15.9],[0.073,-10.6],[0.076,-18.9],[0.079,-16.6],[0.083,-18.9],[0.086,-17.2],[0.089,-16.6],[0.092,-18.4],[0.094,-18.9],[0.097,-16.8],[0.1,-17.4],[0.103,-16.2],[0.106,-16.6],[0.109,-14.6],[0.111,-15.1],[0.114,-16.8],[0.117,-17.4],[0.12,-15.2],[0.123,-13.6],[0.127,-9.9],[0.129,-12],[0.131,-12.9],[0.134,-11.2],[0.136,-12.1],[0.139,-14.2],[0.142,-15.1],[0.145,-13.8],[0.147,-14.4],[0.15,-16.4],[0.153,-15.9],[0.155,-14],[0.157,-14.4],[0.16,-16.2],[0.163,-17.4],[0.166,-18.6],[0.168,-19.6],[0.171,-18.2],[0.174,-18.9],[0.177,-21.2],[0.18,-22.6],[0.183,-20.6],[0.185,-20.4],[0.188,-23.8],[0.191,-26.4],[0.194,-24.2],[0.197,-24.9],[0.2,-27.2],[0.202,-28.6],[0.206,-26.2],[0.21,-24.1],[0.213,-26.8],[0.217,-27.9],[0.221,-25.2],[0.225,-26.4],[0.228,-29.4],[0.232,-28.6],[0.235,-30.2],[0.238,-30.9],[0.241,-33.6],[0.244,-35.4],[0.248,-32.6],[0.251,-33.9],[0.255,-36.8],[0.259,-36.1],[0.262,-38.8],[0.265,-38.4],[0.268,-36.2],[0.27,-36.9],[0.274,-38.6],[0.278,-37.6],[0.282,-35.4],[0.286,-36.1],[0.29,-34.6],[0.293,-33.9],[0.296,-36.2],[0.299,-35.4],[0.302,-37.4],[0.304,-36.1],[0.308,-38.2],[0.312,-37.6],[0.316,-35.6],[0.32,-35.4],[0.324,-37.6],[0.327,-36.9],[0.331,-34.6],[0.335,-35.4],[0.339,-37.8],[0.342,-38.4],[0.346,-36.4],[0.35,-36.9],[0.354,-39.2],[0.357,-39.9],[0.361,-42],[0.365,-41.3],[0.369,-40.2],[0.373,-41.3],[0.376,-40.6],[0.38,-39.9],[0.384,-42],[0.388,-41.3],[0.391,-42.4],[0.395,-43.6],[0.399,-44.6],[0.403,-43.6],[0.407,-42.4],[0.41,-42.8],[0.414,-43.8],[0.418,-42.8],[0.421,-44.2],[0.424,-43.6],[0.427,-45.6],[0.429,-45.1],[0.433,-44],[0.437,-44.3],[0.44,-46.4],[0.444,-45.8],[0.448,-44.6],[0.452,-45.1],[0.456,-46],[0.46,-44.3],[0.463,-45.4],[0.467,-45.1],[0.471,-44],[0.475,-45.1],[0.478,-44.6],[0.482,-44.3],[0.486,-45],[0.49,-44.3],[0.494,-43.8],[0.497,-44.6],[0.5,-43.6]];
const p3Range1 = [[0,-29.4],[0.004,-24.9],[0.008,-29.4],[0.011,-33.9],[0.015,-17.4],[0.018,-15.6],[0.021,-12.9],[0.025,-8.4],[0.028,-9.9],[0.032,-6.9],[0.035,-8.2],[0.038,-9.1],[0.043,-9.9],[0.046,-11.2],[0.049,-12.1],[0.052,-13.2],[0.055,-15.1],[0.058,-17.2],[0.061,-18.1],[0.066,-16.6],[0.069,-19.6],[0.072,-18.9],[0.076,-23.4],[0.079,-24.8],[0.081,-26.4],[0.085,-28.8],[0.089,-27.9],[0.092,-26.2],[0.096,-26.4],[0.1,-28.6],[0.104,-27.9],[0.108,-29.2],[0.112,-30.1],[0.115,-27.4],[0.119,-25.6],[0.123,-28.2],[0.127,-27.1],[0.13,-29.2],[0.134,-27.9],[0.138,-26.8],[0.142,-28.6],[0.146,-29.8],[0.149,-30.1],[0.153,-29.2],[0.157,-30.9],[0.161,-31.8],[0.165,-32.4],[0.168,-33.4],[0.172,-33.1],[0.176,-31.6],[0.18,-32.4],[0.184,-34],[0.187,-33.1],[0.191,-31.2],[0.195,-31.6],[0.199,-33.2],[0.202,-32.4],[0.206,-30.4],[0.21,-30.9],[0.214,-32],[0.217,-30.1],[0.221,-28.8],[0.225,-29.4],[0.229,-30.6],[0.233,-28.6],[0.236,-29.6],[0.24,-30.1],[0.244,-31.2],[0.248,-30.1],[0.251,-31],[0.255,-31.6],[0.259,-32.8],[0.263,-33.9],[0.267,-32.6],[0.27,-33.1],[0.274,-31.6],[0.278,-32.4],[0.282,-30.8],[0.286,-31.6],[0.29,-33],[0.293,-32.4],[0.297,-34],[0.301,-33.1],[0.304,-32],[0.308,-33.9],[0.312,-33],[0.316,-32.4],[0.32,-30.6],[0.323,-30.9],[0.327,-31.8],[0.331,-30.9],[0.335,-32],[0.339,-32.4],[0.342,-31.6],[0.346,-33.1],[0.35,-34.2],[0.354,-33.9],[0.357,-32.8],[0.361,-34.6],[0.365,-35.8],[0.369,-34.6],[0.373,-34.2],[0.376,-35.4],[0.38,-36.2],[0.384,-34.6],[0.388,-35.8],[0.391,-35.4],[0.395,-37],[0.399,-36.1],[0.403,-35.2],[0.407,-36.5],[0.41,-37.6],[0.414,-36.9],[0.418,-35.8],[0.422,-36.1],[0.425,-38],[0.429,-37.6],[0.433,-36.2],[0.437,-35.4],[0.44,-37],[0.444,-36.1],[0.448,-34.8],[0.452,-35.4],[0.456,-36.4],[0.46,-35.4],[0.463,-34.2],[0.467,-34.6],[0.471,-36],[0.475,-35.4],[0.478,-34],[0.482,-34.6],[0.486,-35.6],[0.49,-33.9],[0.494,-34.2],[0.497,-34.6],[0.5,-35]];
const p3Range075 = [[0,-30],[0.004,-25.5],[0.008,-29.8],[0.011,-34.5],[0.015,-17.8],[0.018,-15.8],[0.021,-13.2],[0.025,-8.6],[0.028,-10.2],[0.032,-7],[0.035,-8.4],[0.038,-9.4],[0.043,-10.2],[0.046,-11.4],[0.049,-12.5],[0.052,-13.6],[0.055,-15.5],[0.058,-17.4],[0.061,-18.5],[0.066,-17],[0.069,-19.8],[0.072,-19.2],[0.076,-23.4],[0.079,-25.6],[0.081,-27.1],[0.084,-29.6],[0.087,-30.9],[0.09,-32.2],[0.093,-33.9],[0.096,-36.9],[0.1,-39.9],[0.102,-41.8],[0.104,-41.3],[0.106,-43.6],[0.108,-42.8],[0.11,-44.8],[0.112,-44.3],[0.115,-42.1],[0.117,-43.2],[0.119,-42.1],[0.121,-44.4],[0.123,-43.6],[0.125,-41.6],[0.127,-42.8],[0.13,-44.3],[0.133,-42.4],[0.136,-41.3],[0.139,-43.8],[0.142,-45.1],[0.145,-42.2],[0.147,-42.8],[0.15,-44.6],[0.153,-43.6],[0.156,-46.2],[0.159,-45.1],[0.162,-47.8],[0.165,-47.3],[0.168,-46.4],[0.172,-48.1],[0.176,-47.4],[0.18,-48.8],[0.183,-50.2],[0.187,-50.3],[0.191,-49.2],[0.195,-51],[0.198,-52.2],[0.202,-50.3],[0.206,-48.6],[0.21,-49.5],[0.213,-46.6],[0.217,-47.3],[0.221,-49.6],[0.225,-48.8],[0.229,-46.4],[0.233,-47.3],[0.236,-45.9],[0.24,-48.8],[0.244,-49.6],[0.248,-50.3],[0.251,-48.4],[0.255,-51.8],[0.259,-52.4],[0.263,-51],[0.267,-50.2],[0.27,-51.8],[0.274,-53.4],[0.278,-54.1],[0.282,-51.8],[0.286,-52.6],[0.29,-55],[0.293,-54.1],[0.297,-56.2],[0.301,-55.6],[0.304,-53],[0.308,-54.1],[0.312,-52.2],[0.316,-52.6],[0.32,-50.4],[0.323,-51],[0.327,-49.4],[0.331,-50.3],[0.335,-48.6],[0.339,-49.5],[0.342,-51.2],[0.346,-50.3],[0.35,-48.8],[0.354,-49.5],[0.357,-51.6],[0.361,-50.3],[0.365,-49.6],[0.369,-51],[0.373,-52.6],[0.376,-51.8],[0.38,-50.4],[0.384,-51.8],[0.388,-53],[0.391,-51],[0.395,-49.6],[0.399,-50.3],[0.403,-52.8],[0.407,-51.8],[0.41,-53.6],[0.414,-52.6],[0.418,-51.2],[0.422,-54.1],[0.425,-55.4],[0.429,-55.6],[0.433,-58.2],[0.437,-57.1],[0.44,-55.6],[0.444,-57.8],[0.448,-58.8],[0.452,-56.3],[0.456,-54.6],[0.46,-55.6],[0.463,-57],[0.467,-54.1],[0.471,-52.6],[0.475,-53.3],[0.478,-55.8],[0.482,-54.8],[0.486,-53.2],[0.49,-55.6],[0.494,-57.2],[0.497,-54.1],[0.5,-53.4]];
const p3Range05 = [[0,-30.5],[0.004,-26],[0.008,-30.2],[0.011,-34.8],[0.015,-18],[0.018,-16],[0.021,-13.4],[0.025,-8.8],[0.028,-10.4],[0.032,-7.2],[0.035,-8.6],[0.038,-9.6],[0.043,-10.4],[0.046,-11.6],[0.049,-12.8],[0.052,-13.8],[0.055,-15.8],[0.058,-17.6],[0.061,-18.8],[0.066,-17.3],[0.069,-20],[0.072,-19.5],[0.076,-23.8],[0.079,-26],[0.081,-27.6],[0.084,-29.8],[0.087,-31.4],[0.09,-32.8],[0.093,-34.6],[0.096,-39.1],[0.098,-41.8],[0.1,-44.3],[0.102,-45.8],[0.104,-47.3],[0.106,-49.4],[0.108,-50.3],[0.11,-48.6],[0.112,-47.3],[0.115,-45.8],[0.117,-46.6],[0.119,-42.8],[0.122,-43.2],[0.125,-41.3],[0.127,-42.2],[0.13,-39.9],[0.133,-41.8],[0.136,-42.8],[0.139,-43.6],[0.142,-44.3],[0.145,-43.2],[0.149,-44.3],[0.153,-45.2],[0.157,-45.8],[0.161,-47.4],[0.165,-48.1],[0.168,-49.6],[0.172,-50.3],[0.176,-49.4],[0.18,-48.8],[0.184,-50.6],[0.187,-51.8],[0.191,-53.6],[0.195,-54.8],[0.199,-56.4],[0.202,-57.8],[0.206,-58.6],[0.21,-57.1],[0.214,-58.4],[0.217,-59.3],[0.221,-60.4],[0.225,-60.8],[0.229,-61.6],[0.233,-62.3],[0.236,-62.2],[0.24,-63.1],[0.245,-62.8],[0.251,-62.3],[0.255,-63],[0.259,-63.8],[0.265,-64.2],[0.27,-64.6],[0.276,-65],[0.282,-65.3],[0.288,-64.8],[0.293,-64.6],[0.299,-64.2],[0.304,-63.8],[0.308,-64.2],[0.312,-64.6],[0.316,-65],[0.32,-65.3],[0.324,-65.4],[0.327,-65.7],[0.333,-66],[0.339,-66.5],[0.344,-66.6],[0.35,-66.8],[0.356,-67],[0.361,-67.2],[0.367,-67.4],[0.373,-67.2],[0.378,-67],[0.384,-66.8],[0.39,-67.2],[0.395,-67.6],[0.401,-67.8],[0.407,-68],[0.412,-68],[0.418,-68],[0.424,-68.1],[0.429,-68],[0.435,-67.8],[0.44,-67.6],[0.446,-68],[0.452,-68.3],[0.458,-68.4],[0.463,-68.3],[0.469,-68.3],[0.475,-68.3],[0.48,-68.4],[0.486,-68.3],[0.492,-68.2],[0.5,-68.2]];

const bandColors = ['#0000ff', '#008000', '#ff0000', '#00bfbf', '#bf00bf', '#bfbf00', '#404040', '#10d535'];
const panel1 = [p1Blue, p1Green, p1Red, p1Cyan, p1Magenta, p1Yellow, p1Gray, p1Lime];
const panel2 = [p2Blue, p2Green, p2Red, p2Cyan, p2Magenta, p2Yellow, p2Gray, p2Lime];
const panel3 = [p3Input, p3Range1, p3Range075, p3Range05];
const panel3Names = ['input PSD', 'LP PSD for input range [\u22121 1]', 'LP PSD for input range [\u22120.75 0.75]', 'LP PSD for input range [\u22120.5 0.5]'];
const panel3Colors = ['#00ff00', '#ff00ff', '#ff0000', '#0000ff'];
const panel3Dash = ['solid', 'dashdot', 'dash', '1px,3px'];

const xs = p => p.map(d => d[0]);
const ys = p => p.map(d => d[1]);

const traces = [];
panel1.forEach((p, i) => traces.push({x: xs(p), y: ys(p), xaxis: 'x', yaxis: 'y', type: 'scatter', mode: 'lines', line: {color: bandColors[i], width: 1}, showlegend: false, hoverinfo: 'skip'}));
panel2.forEach((p, i) => traces.push({x: xs(p), y: ys(p), xaxis: 'x2', yaxis: 'y2', type: 'scatter', mode: 'lines', line: {color: bandColors[i], width: 1}, showlegend: false, hoverinfo: 'skip'}));
panel3.forEach((p, i) => traces.push({x: xs(p), y: ys(p), xaxis: 'x3', yaxis: 'y3', type: 'scatter', mode: 'lines', name: panel3Names[i], line: {color: panel3Colors[i], width: 1, dash: panel3Dash[i]}, showlegend: true, hoverinfo: 'skip'}));

const FONT = 'Liberation Sans, Arial, Helvetica, sans-serif';
function xax(anchor) {
  return {anchor: anchor, domain: [0, 1], range: [0, 0.5], tick0: 0, dtick: 0.1, showgrid: true, gridcolor: '#000', griddash: '1px,4px', gridwidth: 1,
    zeroline: false, showline: true, linecolor: '#000', linewidth: 1, mirror: 'ticks', ticks: 'inside', ticklen: 5, tickcolor: '#000',
    tickfont: {size: 18, color: '#000', family: FONT}, title: {text: '\u03c9/2\u03c0', font: {size: 18, color: '#000', family: FONT}, standoff: 4}};
}
function yax(anchor, domain, range, dtick) {
  return {anchor: anchor, domain: domain, range: range, tick0: 0, dtick: dtick, showgrid: true, gridcolor: '#000', griddash: '1px,4px', gridwidth: 1,
    zeroline: false, showline: true, linecolor: '#000', linewidth: 1, mirror: 'ticks', ticks: 'inside', ticklen: 5, tickcolor: '#000',
    tickfont: {size: 18, color: '#000', family: FONT}, title: {text: 'dB', font: {size: 18, color: '#000', family: FONT}, standoff: 6}};
}

const layout = {
  width: 617, height: 1336,
  margin: {l: 72, r: 24, t: 0, b: 0},
  paper_bgcolor: '#fff', plot_bgcolor: '#fff',
  font: {family: FONT, color: '#000'},
  xaxis: xax('y'), yaxis: yax('x', [0.7056, 0.9718], [-40, 3], 5),
  xaxis2: xax('y2'), yaxis2: yax('x2', [0.3713, 0.6375], [-40, 3], 5),
  xaxis3: xax('y3'), yaxis3: yax('x3', [0.0365, 0.3026], [-70, 10], 10),
  showlegend: true,
  legend: {x: 0.2975, y: 0.2957, xanchor: 'left', yanchor: 'top', bgcolor: '#fff', bordercolor: '#000', borderwidth: 1.5,
    font: {size: 18.5, color: '#000', family: FONT}, tracegroupgap: 0},
  annotations: [
    {text: 'Effective analysis filter response for input range: [\u22120.5 0.5]', xref: 'paper', yref: 'paper', x: 0.5, y: 0.9873, xanchor: 'center', yanchor: 'middle', showarrow: false, font: {size: 18.5, color: '#000', family: FONT}},
    {text: 'Effective analysis filter response for input range: [\u22120.75 0.75]', xref: 'paper', yref: 'paper', x: 0.5, y: 0.6534, xanchor: 'center', yanchor: 'middle', showarrow: false, font: {size: 18.5, color: '#000', family: FONT}},
    {text: 'Lowpass subband PSD for different input ranges', xref: 'paper', yref: 'paper', x: 0.5, y: 0.3174, xanchor: 'center', yanchor: 'middle', showarrow: false, font: {size: 18.5, color: '#000', family: FONT}}
  ]
};

Plotly.newPlot('chart', traces, layout, {staticPlot: true, displayModeBar: false});
</script>
</body>
</html>
